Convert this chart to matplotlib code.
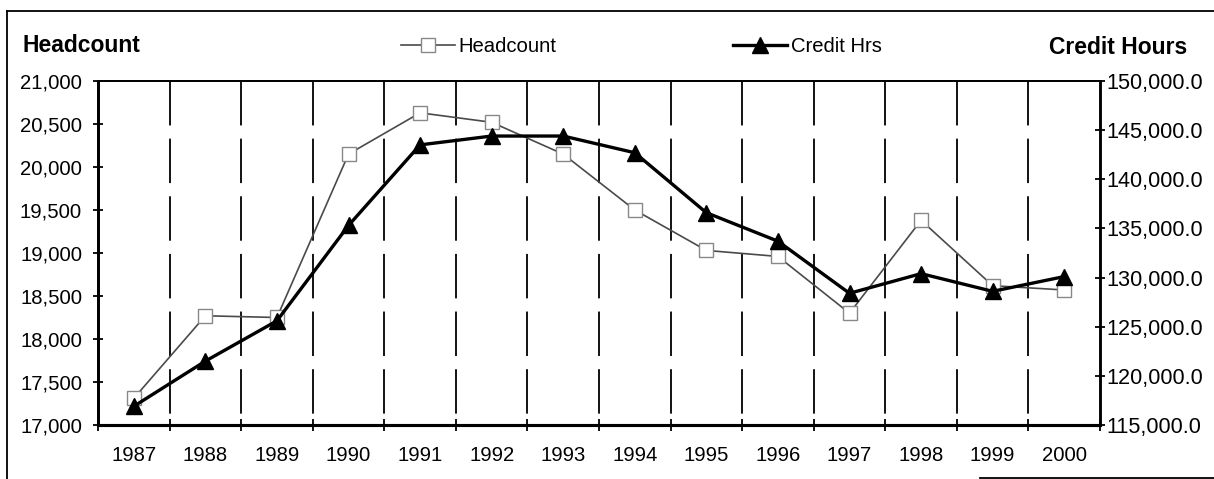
import matplotlib
matplotlib.use("Agg")
import matplotlib.pyplot as plt
from matplotlib.ticker import FuncFormatter, MultipleLocator
from matplotlib.lines import Line2D

years = [1987, 1988, 1989, 1990, 1991, 1992, 1993, 1994, 1995, 1996, 1997, 1998, 1999, 2000]
headcount = [17310, 18270, 18250, 20150, 20630, 20520, 20150, 19500, 19030, 18960, 18300, 19380, 18620, 18570]
credit_hrs = [116900, 121500, 125600, 135300, 143500, 144400, 144400, 142700, 136600, 133700, 128400, 130400, 128600, 130100]

plt.rcParams['font.family'] = ['Liberation Sans', 'DejaVu Sans']
plt.rcParams['lines.scale_dashes'] = False

W, H = 1214, 479
FS = 14.6
fig = plt.figure(figsize=(W / 100, H / 100), dpi=100)
ax = fig.add_axes([98 / W, 1 - 425 / H, (1100 - 98) / W, (425 - 81) / H])
ax2 = ax.twinx()

x = list(range(len(years)))
ax.set_xlim(-0.5, len(years) - 0.5)
ax.set_ylim(17000, 21000)
ax2.set_ylim(115000, 150000)

# vertical dashed gridlines at category boundaries
bounds = [i + 0.5 for i in range(len(years) - 1)]
ax.vlines(bounds, 1, 0, transform=ax.get_xaxis_transform(), colors='black',
          linewidth=1.3, linestyles=(0, (32, 9.5)), zorder=1)

ln1, = ax.plot(x, headcount, color='#4a4a4a', lw=1.2, marker='s', markersize=10.5,
               markerfacecolor='white', markeredgecolor='#888888', markeredgewidth=1.0, zorder=3)
ln2, = ax2.plot(x, credit_hrs, color='black', lw=2.4, marker='^', markersize=11,
                markerfacecolor='black', markeredgecolor='black', zorder=4)

# ticks
ax.yaxis.set_major_locator(MultipleLocator(500))
ax2.yaxis.set_major_locator(MultipleLocator(5000))
ax.yaxis.set_major_formatter(FuncFormatter(lambda v, p: f"{v:,.0f}"))
ax2.yaxis.set_major_formatter(FuncFormatter(lambda v, p: f"{v:,.1f}"))
ax.set_xticks(x)
ax.set_xticklabels([str(y) for y in years])
ax.set_xticks([i - 0.5 for i in range(len(years) + 1)], minor=True)
ax.tick_params(axis='x', which='major', length=0, pad=15, labelsize=FS)
ax.tick_params(axis='x', which='minor', length=8, width=1.3, direction='inout')
ax.tick_params(axis='y', length=7, width=1.3, direction='inout', pad=8, labelsize=FS)
ax2.tick_params(axis='y', length=7, width=1.3, direction='inout', pad=1, labelsize=15.6)

for a in (ax, ax2):
    a.spines['left'].set_linewidth(2.0)
    a.spines['bottom'].set_linewidth(2.2)
    a.spines['top'].set_linewidth(1.3)
    a.spines['right'].set_linewidth(1.8)
ax.set_zorder(ax2.get_zorder() - 1)
ax2.patch.set_alpha(0)
ax.patch.set_visible(False)

# titles
fig.text(22 / W, 1 - 46 / H, "Headcount", fontsize=16.5, fontweight='bold', ha='left', va='center')
fig.text(1187 / W, 1 - 47 / H, "Credit Hours", fontsize=16.5, fontweight='bold', ha='right', va='center')

# legend
fig.legend([ln1, ln2], ["Headcount", "Credit Hrs"], loc='center left',
           bbox_to_anchor=(401 / W, 1 - 47 / H), ncol=2, frameon=False,
           fontsize=FS, handlelength=2.65, handletextpad=0.2, columnspacing=8.7,
           borderpad=0, borderaxespad=0)

# outer frame (partial, as scanned)
fig.add_artist(Line2D([7 / W, 7 / W], [0, 1 - 11 / H], color='black', lw=1.3))
fig.add_artist(Line2D([7 / W, 1], [1 - 11 / H, 1 - 11 / H], color='black', lw=1.3))
fig.add_artist(Line2D([980 / W, 1], [1 - 478 / H, 1 - 478 / H], color='black', lw=1.3))

fig.savefig("out.png", dpi=100)
